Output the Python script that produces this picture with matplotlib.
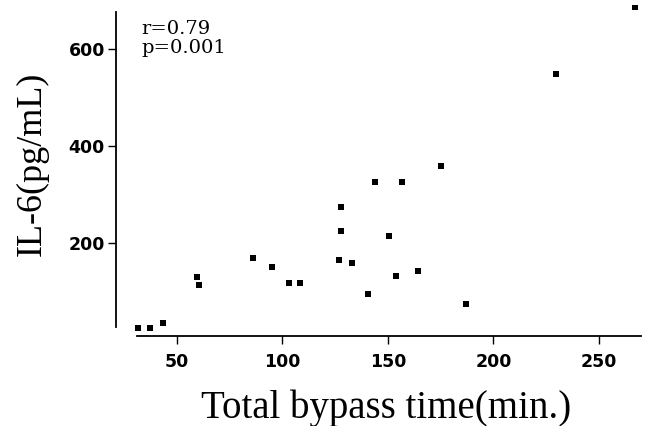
import matplotlib
matplotlib.use("Agg")
import matplotlib.pyplot as plt

# bypass time (min) vs IL-6 (pg/mL)
bypass_time = [31.5, 37, 43.5, 59.5, 60.5, 86, 95, 103, 108.5,
               128, 128, 127, 133, 140.5, 144, 150.5, 154, 156.5,
               164.5, 175, 187, 229.5, 267]
il6 = [25, 25, 35, 130, 113, 169, 150, 118, 117,
       274, 225, 165, 159, 95, 326, 214, 132, 326,
       142, 359, 74, 548, 685]

xticks = [50, 100, 150, 200, 250]
yticks = [200, 400, 600]

W, H = 649, 426
fig = plt.figure(figsize=(W / 100, H / 100), dpi=100)
# axes box in pixel coords: left=116, right=641, top=5, bottom=336
ax = fig.add_axes([116 / W, 1 - 336 / H, (641 - 116) / W, (336 - 5) / H])

ax.scatter(bypass_time, il6, marker="s", s=14, color="black", linewidths=0)

ax.set_xlim(21.1, 270)
ax.set_ylim(8.2, 690)

for side in ["top", "right"]:
    ax.spines[side].set_visible(False)
ax.spines["left"].set_bounds(27, 676)
ax.spines["bottom"].set_bounds(31, 270)
ax.spines["left"].set_linewidth(1.3)
ax.spines["bottom"].set_linewidth(1.3)

ax.set_xticks(xticks)
ax.set_yticks(yticks)
ax.tick_params(axis="both", direction="out", length=6, width=1, pad=2)
ax.tick_params(axis="x", pad=6)
for lab in ax.get_xticklabels() + ax.get_yticklabels():
    lab.set_fontfamily("DejaVu Sans")
    lab.set_fontweight("bold")
    lab.set_fontsize(12.5)

# axis titles placed in figure pixels
fig.text(386 / W, 1 - 418 / H, "Total bypass time(min.)",
         fontfamily="Liberation Serif", fontsize=28,
         ha="center", va="baseline")
fig.text(32 / W, 1 - 164 / H, "IL-6(pg/mL)", rotation=90,
         fontfamily="Liberation Serif", fontsize=26,
         ha="center", va="center")

fig.text(141 / W, 1 - 20 / H, "r=0.79\np=0.001",
         fontfamily="DejaVu Serif", fontsize=14, va="top", ha="left",
         linespacing=1.05)

fig.savefig("out.png", dpi=100)
